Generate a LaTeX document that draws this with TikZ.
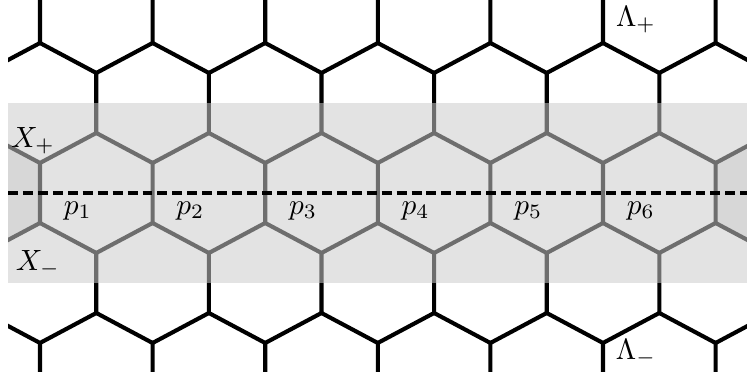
\documentclass[tikz,border=0pt]{standalone}
\usepackage{amsmath, amssymb}
\usepackage{xcolor}
\usepackage{tikz}
\usetikzlibrary{positioning}
\tikzset{
  bond/.style={draw=black, line width=1.4pt, line cap=round, line join=round},
  strip/.style={fill=black!20, opacity=0.54},
  endcell/.style={fill=black!10},
  cut/.style={draw=black, line width=1.1pt, dash pattern=on 3.4pt off 1.7pt},
  lab/.style={inner sep=1pt},
}

\begin{document}
\begin{tikzpicture}[x=0.012cm, y=0.012cm]
  \useasboundingbox (0,0) rectangle (747,380);
  \begin{scope}
    \clip (8,8) rectangle (747,380);
    % the two cells at the ends of the strip
    \foreach \cx in {-16.3, 772.3} {
      \fill[endcell] (\cx-56.3,157) -- (\cx,127) -- (\cx+56.3,157)
        -- (\cx+56.3,217) -- (\cx,247) -- (\cx-56.3,217) -- cycle;
    }
    % honeycomb
    \foreach \r in {0,...,4} {
      \foreach \k in {-1,...,7} {
        \pgfmathsetmacro{\xx}{40+56.3*mod(\r,2)+112.6*\k}
        \pgfmathsetmacro{\yy}{7+90*\r}
        \draw[bond] (\xx,\yy-30) -- (\xx,\yy+30) -- (\xx-56.3,\yy+60);
        \draw[bond] (\xx,\yy+30) -- (\xx+56.3,\yy+60);
      }
    }
    \fill[strip] (8,97) rectangle (747,277);
    \coordinate (cutL) at (8,187);
    \coordinate (cutR) at (747,187);
    \draw[cut] (cutL) -- (cutR);
  \end{scope}

  \node[lab] (xp) at (33,239) {$X_+$};
  \node[lab] (xm) at (38,116) {$X_-$};
  \node[lab] (lp) at (636,360) {$\Lambda_+$};
  \node[lab] (lm) at (636,27) {$\Lambda_-$};
  \foreach \i in {1,...,6} {
    \node[lab] (p\i) at ({77.8+112.6*(\i-1)},169) {$p_{\i}$};
  }
\end{tikzpicture}
\end{document}
